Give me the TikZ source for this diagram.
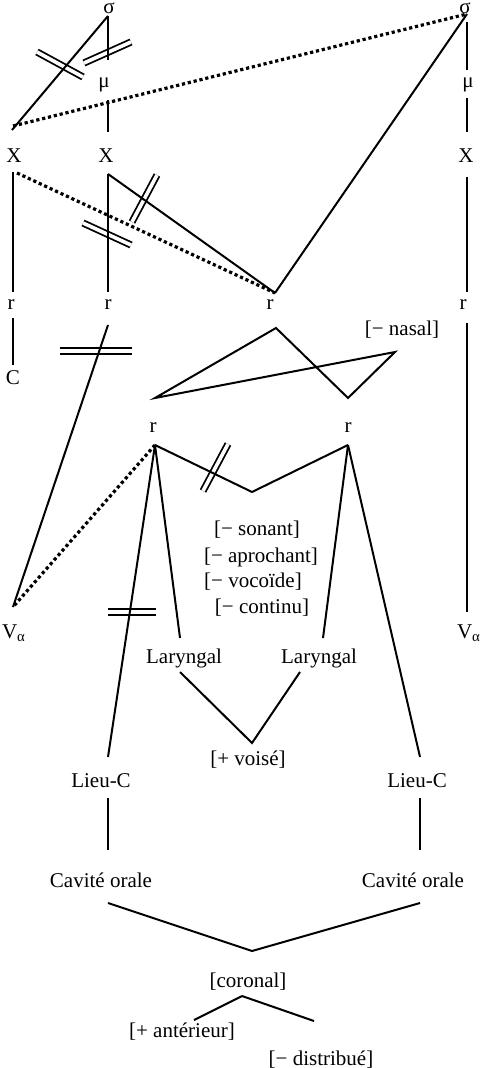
\documentclass[tikz,border=0pt]{standalone}
\usepackage{fontspec}
\setmainfont{Liberation Serif}

\tikzset{every picture/.style={line width=1pt}}
\tikzset{
  lbl/.style={anchor=base, inner sep=0pt, font=\fontsize{10.5}{12}\selectfont},
  link/.style={line width=1pt},
  dotlink/.style={line width=1.6pt, dash pattern=on 1.6pt off 1.4pt},
  cut/.style={double, double distance=1.8pt, line width=0.9pt},
}

\begin{document}
\begin{tikzpicture}[x=0.5pt,y=0.5pt,yscale=-1,xscale=1]
\useasboundingbox (0,0) rectangle (481,1068);

% Text Node
\node[lbl] (sigL) at (109,14) {σ};
\node[lbl] (sigR) at (465,14) {σ};
\node[lbl] (muL) at (104,88) {μ};
\node[lbl] (muR) at (468,88) {μ};
\node[lbl] (XA) at (14,163) {X};
\node[lbl] (XB) at (106,163) {X};
\node[lbl] (XR) at (466,163) {X};
\node[lbl] (rA) at (11,310) {r};
\node[lbl] (rB) at (108,310) {r};
\node[lbl] (rC) at (270,310) {r};
\node[lbl] (rR) at (463,310) {r};
\node[lbl] (C) at (13,385) {C};
\node[lbl] (nasal) at (402,336) {[− nasal]};
\node[lbl] (rD) at (153,433) {r};
\node[lbl] (rE) at (348,433) {r};
\node[lbl] (sonant) at (257,535) {[− sonant]};
\node[lbl] (aproch) at (261,562) {[− aprochant]};
\node[lbl] (vocoide) at (253,587) {[− vocoïde]};
\node[lbl] (continu) at (262,613) {[− continu]};
\node[lbl] (VA) at (14,638) {V\textsubscript{α}};
\node[lbl] (VR) at (469,638) {V\textsubscript{α}};
\node[lbl] (LarL) at (184,663) {Laryngal};
\node[lbl] (LarR) at (319,663) {Laryngal};
\node[lbl] (voise) at (248,765) {[+ voisé]};
\node[lbl] (LieuL) at (101,787) {Lieu-C};
\node[lbl] (LieuR) at (417,787) {Lieu-C};
\node[lbl] (CavL) at (101,887) {Cavité orale};
\node[lbl] (CavR) at (413,887) {Cavité orale};
\node[lbl] (coronal) at (248,987) {[coronal]};
\node[lbl] (ant) at (182,1037) {[+ antérieur]};
\node[lbl] (dist) at (321,1065) {[− distribué]};

% line ends
\coordinate (sigL-b) at (108,16);
\coordinate (muL-t) at (108,60);
\coordinate (muL-b) at (108,100);
\coordinate (XB-t) at (108,132);
\coordinate (XB-b) at (108,174);
\coordinate (XA-t) at (12,130);
\coordinate (XA-u) at (13,126);
\coordinate (XA-b) at (13,172);
\coordinate (XA-d) at (17,173);
\coordinate (sigR-b) at (467,14);
\coordinate (sigR-v) at (467,22);
\coordinate (muR-t) at (467,70);
\coordinate (muR-b) at (467,98);
\coordinate (XR-t) at (467,132);
\coordinate (XR-b) at (467,177);
\coordinate (rR-t) at (467,292);
\coordinate (rR-b) at (467,323);
\coordinate (VR-t) at (467,612);
\coordinate (rA-t) at (13,292);
\coordinate (rA-b) at (13,318);
\coordinate (C-t) at (13,365);
\coordinate (rB-t) at (108,292);
\coordinate (rB-b) at (108,325);
\coordinate (rC-t) at (275,293);
\coordinate (VA-t) at (13,607);
\coordinate (rD-b) at (155,445);
\coordinate (rE-b) at (348,445);
\coordinate (dip) at (252,492);
\coordinate (LarL-t) at (180,638);
\coordinate (LarL-b) at (180,672);
\coordinate (LarR-t) at (323,638);
\coordinate (LarR-b) at (300,672);
\coordinate (voise-t) at (252,743);
\coordinate (LieuL-t) at (108,757);
\coordinate (LieuL-b) at (108,798);
\coordinate (LieuR-t) at (420,757);
\coordinate (LieuR-b) at (420,798);
\coordinate (CavL-t) at (108,850);
\coordinate (CavL-b) at (108,903);
\coordinate (CavR-t) at (420,850);
\coordinate (CavR-b) at (420,903);
\coordinate (coronal-t) at (252,951);
\coordinate (coronal-b) at (242,996);
\coordinate (ant-t) at (194,1020);
\coordinate (dist-t) at (314,1021);

%Shape: double bars
\draw[cut] (37,52) -- (83,77);
\draw[cut] (84,63) -- (131,42);
\draw[cut] (132,222) -- (157,175);
\draw[cut] (83,223) -- (131,245);
\draw[cut] (60,351) -- (132,351);
\draw[cut] (203,491) -- (228,444);
\draw[cut] (108,612) -- (156,612);

%Shape: upper tiers
\draw[link] (sigL-b) -- (muL-t);
\draw[link] (muL-b) -- (XB-t);
\draw[link] (sigL-b) -- (XA-t);
\draw[dotlink] (XA-u) -- (sigR-b);
\draw[link] (sigR-b) -- (rC-t);
\draw[link] (sigR-v) -- (muR-t);
\draw[link] (muR-b) -- (XR-t);
\draw[link] (XR-b) -- (rR-t);
\draw[link] (rR-b) -- (VR-t);
\draw[link] (XA-b) -- (rA-t);
\draw[link] (XB-b) -- (rB-t);
\draw[dotlink] (XA-d) -- (rC-t);
\draw[link] (XB-b) -- (rC-t);
\draw[link] (rA-b) -- (C-t);
\draw[link] (rB-b) -- (VA-t);

%Shape: crossed polygon
\draw[link] (155,398) -- (276,328) -- (348,398) -- (395,352) -- cycle;

%Shape: root tiers
\draw[dotlink] (rD-b) -- (VA-t);
\draw[link] (rD-b) -- (dip) -- (rE-b);
\draw[link] (rD-b) -- (LieuL-t);
\draw[link] (rD-b) -- (LarL-t);
\draw[link] (rE-b) -- (LarR-t);
\draw[link] (rE-b) -- (LieuR-t);
\draw[link] (LarL-b) -- (voise-t) -- (LarR-b);
\draw[link] (LieuL-b) -- (CavL-t);
\draw[link] (LieuR-b) -- (CavR-t);
\draw[link] (CavL-b) -- (coronal-t) -- (CavR-b);
\draw[link] (coronal-b) -- (ant-t);
\draw[link] (coronal-b) -- (dist-t);

\end{tikzpicture}
\end{document}
